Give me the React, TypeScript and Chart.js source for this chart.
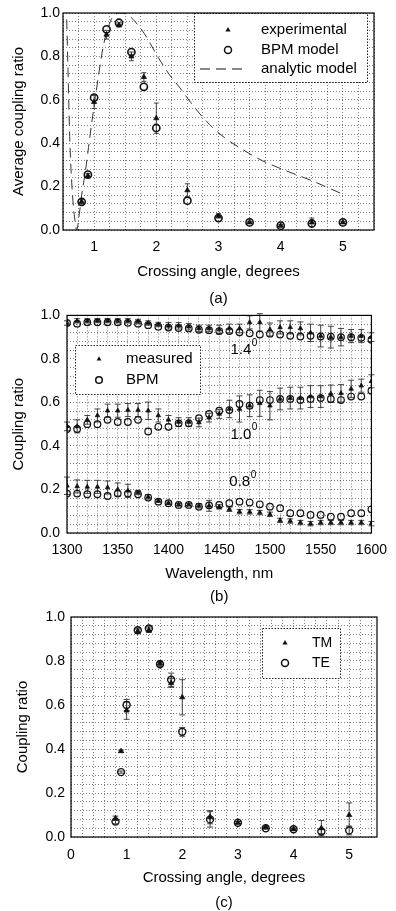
import React, { useEffect, useRef } from 'react';
import { Chart, registerables } from 'chart.js';

Chart.register(...registerables);

const FONT = '"Liberation Sans", Arial, Helvetica, sans-serif';

// ---------------- Panel (a) ----------------
const aAngles = [0.8, 0.9, 1.0, 1.2, 1.4, 1.6, 1.8, 2.0, 2.5, 3.0, 3.5, 4.0, 4.5, 5.0];
const aExperimental = [0.13, 0.25, 0.59, 0.9, 0.945, 0.8, 0.705, 0.515, 0.183, 0.065, 0.035, 0.02, 0.035, 0.035];
const aExperimentalErr = [0.01, 0.01, 0.03, 0.02, 0.01, 0.02, 0.02, 0.07, 0.03, 0.01, 0.005, 0.005, 0.02, 0.005];
const aBpm = [0.13, 0.255, 0.61, 0.925, 0.955, 0.82, 0.66, 0.47, 0.135, 0.055, 0.035, 0.02, 0.03, 0.035];
const aAnalyticX = [0.56, 0.58, 0.61, 0.64, 0.67, 0.7, 0.72, 0.76, 0.8, 0.86, 0.91, 0.96, 1.02, 1.07, 1.15, 1.26, 1.35, 1.44, 1.55, 1.66, 1.82, 2.0, 2.2, 2.38, 2.6, 2.86, 3.1, 3.45, 3.7, 3.99, 4.25, 4.52, 4.75, 5.0];
const aAnalyticY = [0.97, 0.74, 0.41, 0.22, 0.1, 0.03, 0.0, 0.07, 0.16, 0.27, 0.38, 0.49, 0.61, 0.71, 0.85, 0.96, 0.995, 1.0, 0.99, 0.96, 0.9, 0.81, 0.72, 0.655, 0.57, 0.485, 0.425, 0.36, 0.32, 0.284, 0.255, 0.225, 0.196, 0.165];
const aXTickLabels = [1, 2, 3, 4, 5];
const aYTickLabels = [0, 0.2, 0.4, 0.6, 0.8, 1.0];

// ---------------- Panel (b) ----------------
const bWavelengths = [1300, 1310, 1320, 1330, 1340, 1350, 1360, 1370, 1380, 1390, 1400, 1410, 1420, 1430, 1440, 1450, 1460, 1470, 1480, 1490, 1500, 1510, 1520, 1530, 1540, 1550, 1560, 1570, 1580, 1590, 1600];
const b14Measured = [0.965, 0.975, 0.975, 0.976, 0.976, 0.975, 0.975, 0.972, 0.965, 0.958, 0.952, 0.952, 0.948, 0.94, 0.94, 0.935, 0.94, 0.94, 0.968, 0.968, 0.935, 0.945, 0.945, 0.94, 0.92, 0.905, 0.9, 0.9, 0.905, 0.905, 0.9];
const b14MeasuredErr = [0.01, 0.01, 0.01, 0.01, 0.01, 0.01, 0.01, 0.01, 0.01, 0.01, 0.015, 0.015, 0.015, 0.015, 0.015, 0.02, 0.02, 0.02, 0.03, 0.04, 0.03, 0.03, 0.03, 0.03, 0.04, 0.05, 0.05, 0.04, 0.03, 0.03, 0.02];
const b14Bpm = [0.965, 0.962, 0.968, 0.968, 0.968, 0.968, 0.966, 0.962, 0.955, 0.948, 0.944, 0.942, 0.94, 0.934, 0.932, 0.928, 0.928, 0.922, 0.918, 0.912, 0.916, 0.912, 0.906, 0.903, 0.906, 0.903, 0.902, 0.9, 0.9, 0.897, 0.888];
const b10Measured = [0.49, 0.49, 0.52, 0.54, 0.562, 0.562, 0.565, 0.565, 0.562, 0.54, 0.52, 0.51, 0.51, 0.508, 0.53, 0.547, 0.57, 0.57, 0.585, 0.596, 0.585, 0.616, 0.62, 0.62, 0.627, 0.627, 0.64, 0.642, 0.662, 0.677, 0.697];
const b10MeasuredErr = [0.02, 0.03, 0.02, 0.03, 0.03, 0.03, 0.03, 0.03, 0.04, 0.03, 0.02, 0.02, 0.02, 0.02, 0.02, 0.02, 0.04, 0.06, 0.05, 0.06, 0.065, 0.05, 0.05, 0.05, 0.05, 0.05, 0.04, 0.04, 0.04, 0.03, 0.03];
const b10Bpm = [0.478, 0.478, 0.5, 0.5, 0.52, 0.51, 0.51, 0.52, 0.467, 0.488, 0.488, 0.504, 0.504, 0.528, 0.547, 0.562, 0.565, 0.593, 0.585, 0.611, 0.611, 0.616, 0.616, 0.611, 0.616, 0.62, 0.616, 0.611, 0.627, 0.627, 0.654];
const b08Measured = [0.217, 0.214, 0.212, 0.212, 0.209, 0.2, 0.194, 0.186, 0.166, 0.147, 0.137, 0.13, 0.13, 0.125, 0.125, 0.12, 0.109, 0.098, 0.097, 0.094, 0.086, 0.058, 0.055, 0.048, 0.043, 0.048, 0.048, 0.048, 0.048, 0.048, 0.043];
const b08MeasuredErr = [0.04, 0.03, 0.03, 0.03, 0.03, 0.03, 0.03, 0.01, 0.01, 0.005, 0.005, 0.005, 0.005, 0.01, 0.025, 0.01, 0.01, 0.01, 0.01, 0.01, 0.01, 0.01, 0.01, 0.01, 0.01, 0.01, 0.01, 0.01, 0.01, 0.01, 0.01];
const b08Bpm = [0.181, 0.181, 0.178, 0.178, 0.17, 0.181, 0.181, 0.178, 0.163, 0.144, 0.137, 0.129, 0.129, 0.121, 0.127, 0.129, 0.137, 0.144, 0.14, 0.132, 0.121, 0.114, 0.091, 0.091, 0.083, 0.083, 0.075, 0.075, 0.091, 0.091, 0.109];
const bXTickLabels = [1300, 1350, 1400, 1450, 1500, 1550, 1600];
const bYTickLabels = [0, 0.2, 0.4, 0.6, 0.8, 1.0];
const bAngleLabels = ['1.4', '1.0', '0.8'];
const bAngleLabelX = [1461, 1461, 1460];
const bAngleLabelY = [0.84, 0.452, 0.233];

// ---------------- Panel (c) ----------------
const cAngles = [0.8, 0.9, 1.0, 1.2, 1.4, 1.6, 1.8, 2.0, 2.5, 3.0, 3.5, 4.0, 4.5, 5.0];
const cTM = [0.085, 0.39, 0.575, 0.935, 0.94, 0.79, 0.7, 0.635, 0.09, 0.065, 0.045, 0.035, 0.04, 0.1];
const cTMErr = [0.01, 0.005, 0.04, 0.01, 0.01, 0.01, 0.02, 0.08, 0.03, 0.005, 0.005, 0.005, 0.035, 0.055];
const cTE = [0.07, 0.295, 0.6, 0.94, 0.948, 0.785, 0.715, 0.478, 0.08, 0.065, 0.04, 0.035, 0.025, 0.03];
const cTEErr = [0.01, 0.005, 0.025, 0.01, 0.01, 0.01, 0.03, 0.02, 0.035, 0.005, 0.005, 0.005, 0.01, 0.02];
const cXTickLabels = [0, 1, 2, 3, 4, 5];
const cYTickLabels = [0, 0.2, 0.4, 0.6, 0.8, 1.0];

// ---------------- helpers ----------------
const pts = (xs: number[], ys: number[]) => xs.map((x, i) => ({ x, y: ys[i] }));

function steps(min: number, max: number, step: number) {
  const out: number[] = [];
  for (let i = 0; ; i++) {
    const v = +(min + i * step).toFixed(6);
    if (v > max + 1e-9) break;
    out.push(v);
  }
  return out;
}

type AxisCfg = {
  min: number; max: number; step: number; labels: number[]; decimals: number;
  size: number; tickPad: number; title: string | string[]; titleLH: number;
  titlePad: { top: number; bottom: number };
};

function axis(cfg: AxisCfg, horizontal: boolean) {
  const gridVals = steps(cfg.min, cfg.max, cfg.step);
  return {
    type: 'linear',
    min: cfg.min,
    max: cfg.max,
    afterBuildTicks: (s: any) => { s.ticks = gridVals.map((v) => ({ value: v })); },
    afterFit: (s: any) => { if (horizontal) s.height = cfg.size; else s.width = cfg.size; },
    ticks: {
      autoSkip: false, maxRotation: 0, minRotation: 0, padding: cfg.tickPad, color: '#000',
      font: { family: FONT, size: 14 },
      callback: (v: number) => {
        const m = cfg.labels.find((l) => Math.abs(l - v) < 1e-6);
        return m === undefined ? '' : m.toFixed(cfg.decimals);
      },
    },
    grid: { color: 'rgba(0,0,0,0.5)', lineWidth: 1, drawTicks: false },
    border: { display: false, dash: [1, 2] },
    title: {
      display: true, text: cfg.title, color: '#000',
      font: { family: FONT, size: 15, lineHeight: cfg.titleLH }, padding: cfg.titlePad,
    },
  };
}

const framePlugin = {
  id: 'frame',
  afterDraw(chart: any) {
    const { ctx, chartArea: { left, top, right, bottom } } = chart;
    ctx.save();
    ctx.strokeStyle = '#000';
    ctx.lineWidth = 1.2;
    ctx.strokeRect(left, top, right - left, bottom - top);
    ctx.restore();
  },
};

const errorBarPlugin = (cap: number) => ({
  id: 'errorBars',
  beforeDatasetsDraw(chart: any) {
    const ctx = chart.ctx;
    chart.data.datasets.forEach((ds: any, di: number) => {
      const errs = ds.errorBars as number[] | undefined;
      if (!errs) return;
      const meta = chart.getDatasetMeta(di);
      const xs = chart.scales[meta.xAxisID];
      const ys = chart.scales[meta.yAxisID];
      ctx.save();
      ctx.strokeStyle = '#333';
      ctx.lineWidth = 0.9;
      ds.data.forEach((p: any, i: number) => {
        const e = errs[i];
        if (!e) return;
        const x = xs.getPixelForValue(p.x);
        const y1 = ys.getPixelForValue(p.y + e);
        const y2 = ys.getPixelForValue(p.y - e);
        ctx.beginPath();
        ctx.moveTo(x, y1); ctx.lineTo(x, y2);
        ctx.moveTo(x - cap, y1); ctx.lineTo(x + cap, y1);
        ctx.moveTo(x - cap, y2); ctx.lineTo(x + cap, y2);
        ctx.stroke();
      });
      ctx.restore();
    });
  },
});

type LegendRow = { y: number; label: string; kind: 'triangle' | 'circle' | 'dash' };
type LegendCfg = { x: number; y: number; w: number; h: number; markerX: number; textX: number; fontSize: number; r: number; rows: LegendRow[] };

function boxLegend(cfg: LegendCfg) {
  return {
    id: 'boxLegend',
    afterDraw(chart: any) {
      const { ctx, chartArea } = chart;
      const x0 = Math.round(chartArea.left + cfg.x);
      const y0 = Math.round(chartArea.top + cfg.y);
      ctx.save();
      ctx.fillStyle = '#fff';
      ctx.fillRect(x0, y0, cfg.w, cfg.h);
      ctx.strokeStyle = '#222';
      ctx.lineWidth = 1;
      ctx.setLineDash([1.5, 1.5]);
      ctx.strokeRect(x0 + 0.5, y0 + 0.5, cfg.w, cfg.h);
      ctx.setLineDash([]);
      ctx.font = `${cfg.fontSize}px ${FONT}`;
      ctx.textBaseline = 'middle';
      ctx.textAlign = 'left';
      cfg.rows.forEach((row) => {
        const cy = y0 + row.y;
        const mx = x0 + cfg.markerX;
        ctx.fillStyle = '#111';
        ctx.strokeStyle = '#111';
        if (row.kind === 'triangle') {
          const r = cfg.r;
          ctx.beginPath();
          ctx.moveTo(mx, cy - r);
          ctx.lineTo(mx + r * 0.866, cy + r * 0.5);
          ctx.lineTo(mx - r * 0.866, cy + r * 0.5);
          ctx.closePath();
          ctx.fill();
        } else if (row.kind === 'circle') {
          ctx.lineWidth = 1.5;
          ctx.beginPath();
          ctx.arc(mx, cy, cfg.r + 0.5, 0, Math.PI * 2);
          ctx.stroke();
        } else {
          ctx.lineWidth = 1;
          ctx.setLineDash([10, 6]);
          ctx.beginPath();
          ctx.moveTo(x0 + 6, cy);
          ctx.lineTo(x0 + 54, cy);
          ctx.stroke();
          ctx.setLineDash([]);
        }
        ctx.fillStyle = '#000';
        ctx.fillText(row.label, x0 + cfg.textX, cy);
      });
      ctx.restore();
    },
  };
}

const angleLabelPlugin = {
  id: 'angleLabels',
  afterDatasetsDraw(chart: any) {
    const { ctx, scales } = chart;
    ctx.save();
    ctx.fillStyle = '#000';
    ctx.textBaseline = 'middle';
    ctx.textAlign = 'left';
    bAngleLabels.forEach((t, i) => {
      const x = scales.x.getPixelForValue(bAngleLabelX[i]);
      const y = scales.y.getPixelForValue(bAngleLabelY[i]);
      ctx.font = `15px ${FONT}`;
      ctx.fillText(t, x, y);
      const w = ctx.measureText(t).width;
      ctx.font = `10px ${FONT}`;
      ctx.fillText('0', x + w + 0.5, y - 7);
    });
    ctx.restore();
  },
};

const triangle = (data: any, err: number[] | null, r: number) => ({
  data, errorBars: err || undefined, pointStyle: 'triangle', pointRadius: r,
  backgroundColor: '#111', borderColor: '#111', borderWidth: 0.8,
});
const circle = (data: any, err: number[] | null, r: number, bw: number) => ({
  data, errorBars: err || undefined, pointStyle: 'circle', pointRadius: r,
  backgroundColor: 'rgba(0,0,0,0)', borderColor: '#111', borderWidth: bw,
});

const baseOptions = (padding: any, scales: any) => ({
  animation: false,
  responsive: false,
  devicePixelRatio: 1,
  events: [],
  layout: { padding },
  plugins: { legend: { display: false }, tooltip: { enabled: false }, title: { display: false } },
  scales,
});

function configA(): any {
  return {
    type: 'scatter',
    data: {
      datasets: [
        { label: 'experimental', ...triangle(pts(aAngles, aExperimental), aExperimentalErr, 3) },
        { label: 'BPM model', ...circle(pts(aAngles, aBpm), null, 3.6, 1.6) },
        {
          label: 'analytic model', data: pts(aAnalyticX, aAnalyticY), showLine: true, pointRadius: 0,
          borderColor: '#333', borderWidth: 1, borderDash: [10, 6], cubicInterpolationMode: 'monotone', fill: false,
        },
      ],
    },
    options: baseOptions({ top: 13, right: 22, bottom: 0, left: 0 }, {
      x: axis({ min: 0.5, max: 5.5, step: 0.25, labels: aXTickLabels, decimals: 0, size: 82, tickPad: 9,
        title: ['Crossing angle, degrees', '(a)'], titleLH: 1.8, titlePad: { top: 0, bottom: 0 } }, true),
      y: axis({ min: 0, max: 1, step: 0.04, labels: aYTickLabels, decimals: 1, size: 63, tickPad: 3,
        title: 'Average coupling ratio', titleLH: 1.2, titlePad: { top: 10, bottom: 0 } }, false),
    }),
    plugins: [errorBarPlugin(2.5), boxLegend({
      x: 131, y: 0, w: 173, h: 69, markerX: 34, textX: 67, fontSize: 15, r: 3,
      rows: [
        { y: 17, label: 'experimental', kind: 'triangle' },
        { y: 37, label: 'BPM model', kind: 'circle' },
        { y: 56, label: 'analytic model', kind: 'dash' },
      ],
    }), framePlugin],
  };
}

function configB(): any {
  return {
    type: 'scatter',
    data: {
      datasets: [
        { label: 'measured 1.4', ...triangle(pts(bWavelengths, b14Measured), b14MeasuredErr, 2.6) },
        { label: 'BPM 1.4', ...circle(pts(bWavelengths, b14Bpm), null, 3.3, 1.2) },
        { label: 'measured 1.0', ...triangle(pts(bWavelengths, b10Measured), b10MeasuredErr, 2.6) },
        { label: 'BPM 1.0', ...circle(pts(bWavelengths, b10Bpm), null, 3.3, 1.2) },
        { label: 'measured 0.8', ...triangle(pts(bWavelengths, b08Measured), b08MeasuredErr, 2.6) },
        { label: 'BPM 0.8', ...circle(pts(bWavelengths, b08Bpm), null, 3.3, 1.2) },
      ],
    },
    options: baseOptions({ top: 14, right: 17, bottom: 0, left: 0 }, {
      x: axis({ min: 1300, max: 1600, step: 10, labels: bXTickLabels, decimals: 0, size: 79, tickPad: 9,
        title: ['Wavelength, nm', '(b)'], titleLH: 1.53, titlePad: { top: 0, bottom: 3.5 } }, true),
      y: axis({ min: 0, max: 1, step: 0.04, labels: bYTickLabels, decimals: 1, size: 67, tickPad: 7,
        title: 'Coupling ratio', titleLH: 1.2, titlePad: { top: 9.5, bottom: 0 } }, false),
    }),
    plugins: [errorBarPlugin(3), angleLabelPlugin, boxLegend({
      x: 8, y: 30, w: 125, h: 49, markerX: 24, textX: 51, fontSize: 15, r: 2.8,
      rows: [
        { y: 14, label: 'measured', kind: 'triangle' },
        { y: 35, label: 'BPM', kind: 'circle' },
      ],
    }), framePlugin],
  };
}

function configC(): any {
  return {
    type: 'scatter',
    data: {
      datasets: [
        { label: 'TM', ...triangle(pts(cAngles, cTM), cTMErr, 3) },
        { label: 'TE', ...circle(pts(cAngles, cTE), cTEErr, 3.5, 1.4) },
      ],
    },
    options: baseOptions({ top: 17, right: 19, bottom: 0, left: 0 }, {
      x: axis({ min: 0, max: 5.5, step: 0.2, labels: cXTickLabels, decimals: 0, size: 74, tickPad: 10,
        title: ['Crossing angle, degrees', '(c)'], titleLH: 1.667, titlePad: { top: 0, bottom: -4.5 } }, true),
      y: axis({ min: 0, max: 1, step: 0.04, labels: cYTickLabels, decimals: 1, size: 71, tickPad: 6,
        title: 'Coupling ratio', titleLH: 1.2, titlePad: { top: 14, bottom: 0 } }, false),
    }),
    plugins: [errorBarPlugin(3), boxLegend({
      x: 191, y: 11, w: 78, h: 50, markerX: 23, textX: 50, fontSize: 14, r: 3,
      rows: [
        { y: 15, label: 'TM', kind: 'triangle' },
        { y: 35, label: 'TE', kind: 'circle' },
      ],
    }), framePlugin],
  };
}

function ChartCanvas({ top, height, make }: { top: number; height: number; make: () => any }) {
  const ref = useRef<HTMLCanvasElement | null>(null);
  useEffect(() => {
    if (!ref.current) return;
    const chart = new Chart(ref.current, make());
    return () => chart.destroy();
  }, [make]);
  return (
    <canvas
      ref={ref}
      width={396}
      height={height}
      style={{ position: 'absolute', left: 0, top, width: 396, height }}
    />
  );
}

export default function App() {
  return (
    <div style={{ position: 'absolute', left: 0, top: 0, width: 396, height: 911, background: '#fff', overflow: 'hidden' }}>
      <ChartCanvas top={0} height={312} make={configA} />
      <ChartCanvas top={300} height={312} make={configB} />
      <ChartCanvas top={600} height={311} make={configC} />
    </div>
  );
}
